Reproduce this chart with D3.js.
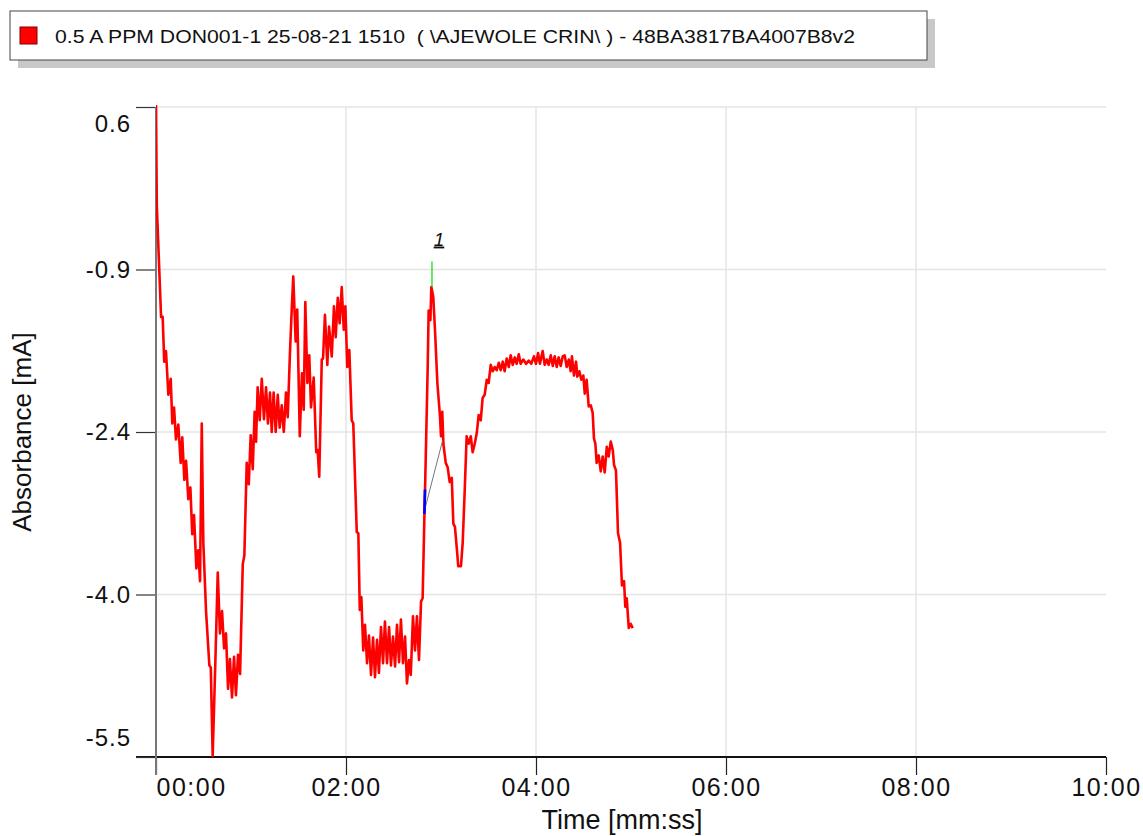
<html>
  <head>
    <script src="https://d3js.org/d3.v7.min.js"></script>
    <style>
      body { margin: 0; background: #fff; }
      text { font-family: "Liberation Sans", Arial, sans-serif; }
    </style>
  </head>

  <body>
    <svg id="vis"></svg>
  </body>

  <script>
    // Legend / axis labels
    var legendLabel = "0.5 A PPM DON001-1 25-08-21 1510  ( \\AJEWOLE CRIN\\ ) - 48BA3817BA4007B8v2"
    var xTitle = "Time [mm:ss]"
    var yTitle = "Absorbance [mA]"

    // Ticks (seconds / mA)
    var xTicks = [0, 120, 240, 360, 480, 600]
    var yTicks = [0.6, -0.925, -2.45, -3.975, -5.5]
    var yTickLabels = ["0.6", "-0.9", "-2.4", "-4.0", "-5.5"]

    // Trace: [time s, absorbance mA]
    var trace = [
      [0, 0.62], [0.5, -0.32], [3.2, -1.37], [4.2, -1.37], [5.2, -1.79], [6.3, -1.69], [7.8, -2.10], [9.3, -1.95],
      [10.3, -2.37], [11.4, -2.22], [12.6, -2.52], [14.1, -2.38], [15.6, -2.74], [16.6, -2.50], [17.9, -2.90],
      [19.0, -2.72], [20.4, -3.08], [21.7, -2.97], [22.9, -3.41], [24.0, -3.23], [25.5, -3.73], [26.7, -3.56],
      [27.8, -3.85], [28.9, -2.37], [29.9, -3.49], [31.6, -4.13], [33.7, -4.64], [34.6, -4.66], [35.8, -5.49],
      [37.5, -4.60], [39.0, -3.77], [40.4, -4.34], [41.7, -4.13], [43.0, -4.48], [44.2, -4.34], [45.5, -4.86],
      [46.7, -4.58], [48.0, -4.94], [49.3, -4.56], [50.5, -4.92], [51.8, -4.54], [53.1, -4.72], [54.8, -3.69],
      [55.8, -3.61], [57.3, -2.74], [58.6, -2.94], [59.8, -2.48], [61.1, -2.80], [62.3, -2.26], [63.2, -2.54],
      [64.2, -2.03], [65.5, -2.34], [66.8, -1.95], [68.2, -2.33], [69.5, -2.03], [70.7, -2.37], [72.0, -2.08],
      [73.1, -2.45], [74.3, -2.08], [75.6, -2.45], [76.9, -2.10], [78.1, -2.41], [79.4, -2.20], [80.7, -2.45],
      [82.1, -2.08], [83.2, -2.31], [84.6, -1.71], [85.7, -1.31], [86.7, -0.99], [88.2, -1.60], [89.2, -1.30],
      [90.8, -2.49], [92.2, -1.90], [93.3, -2.24], [94.3, -1.23], [95.6, -1.99], [96.8, -1.73], [97.9, -2.22],
      [99.6, -1.94], [101.2, -2.64], [102.1, -2.62], [103.1, -2.87], [104.7, -1.77], [105.5, -1.76], [106.7, -1.35],
      [108.2, -1.82], [109.3, -1.46], [111.0, -1.74], [112.4, -1.27], [113.5, -1.56], [114.8, -1.19], [116.0, -1.43],
      [117.3, -1.09], [118.6, -1.49], [119.6, -1.27], [120.8, -1.84], [122.1, -1.68], [123.6, -2.34], [124.6, -2.37],
      [126.8, -3.39], [127.8, -3.40], [128.7, -4.12], [129.7, -4.00], [130.9, -4.50], [132.0, -4.26], [133.3, -4.62],
      [134.5, -4.36], [135.8, -4.73], [137.1, -4.38], [138.3, -4.75], [139.6, -4.40], [140.8, -4.71], [142.1, -4.28],
      [143.4, -4.62], [144.6, -4.23], [145.9, -4.62], [147.2, -4.28], [148.4, -4.64], [149.7, -4.37], [151.0, -4.65],
      [152.2, -4.26], [153.5, -4.61], [154.7, -4.21], [156.0, -4.62], [157.3, -4.37], [158.5, -4.81], [159.8, -4.59],
      [160.9, -4.73], [162.3, -4.18], [163.6, -4.50], [164.8, -4.18], [166.1, -4.59], [167.4, -4.04], [168.4, -4.01],
      [169.5, -3.25], [170.3, -2.74], [171.6, -1.84], [172.2, -1.31], [173.3, -1.40], [173.9, -1.09], [175.1, -1.18],
      [176.2, -1.49], [177.7, -1.99], [179.4, -2.31], [180.0, -2.49], [180.8, -2.26], [181.5, -2.56], [183.0, -2.74],
      [184.2, -2.78], [185.5, -2.92], [186.8, -2.88], [187.8, -3.31], [188.8, -3.34], [190.1, -3.56], [190.9, -3.71],
      [192.6, -3.71], [193.7, -3.49], [195.0, -2.99], [196.2, -2.49], [197.5, -2.56], [198.8, -2.49], [200.0, -2.64],
      [201.3, -2.56], [202.6, -2.46], [203.8, -2.29], [205.1, -2.34], [206.3, -2.13], [207.6, -2.10], [208.9, -1.96],
      [210.1, -1.99], [211.4, -1.82], [212.7, -1.88], [213.9, -1.84], [215.2, -1.87], [216.5, -1.80], [217.7, -1.87],
      [219.0, -1.79], [220.2, -1.88], [221.5, -1.76], [222.8, -1.84], [224.0, -1.73], [225.3, -1.82], [226.6, -1.75],
      [227.8, -1.81], [229.1, -1.72], [230.3, -1.81], [232.0, -1.77], [233.7, -1.81], [235.4, -1.78], [237.0, -1.81],
      [238.7, -1.74], [240.0, -1.81], [241.3, -1.71], [242.5, -1.81], [244.2, -1.69], [245.5, -1.82], [246.8, -1.77],
      [248.0, -1.82], [249.3, -1.73], [250.6, -1.83], [251.8, -1.74], [253.1, -1.84], [254.3, -1.75], [255.6, -1.83],
      [256.9, -1.74], [258.1, -1.73], [259.4, -1.84], [260.7, -1.77], [261.9, -1.88], [262.7, -1.74], [264.0, -1.92],
      [265.3, -1.79], [266.1, -1.93], [267.4, -1.88], [268.6, -1.96], [269.9, -1.92], [270.8, -2.09], [272.0, -1.96],
      [273.3, -2.21], [274.6, -2.20], [275.8, -2.27], [276.6, -2.51], [277.5, -2.56], [278.3, -2.74], [279.6, -2.67],
      [280.9, -2.82], [282.1, -2.68], [283.4, -2.83], [284.7, -2.59], [285.9, -2.68], [287.2, -2.54], [288.5, -2.62],
      [289.3, -2.76], [290.5, -2.81], [291.8, -3.40], [293.1, -3.49], [294.3, -3.89], [295.6, -3.85], [296.4, -4.09],
      [297.3, -4.01], [298.6, -4.29], [299.8, -4.25], [301.1, -4.29]
    ]

    // Peak 1 (name, apex time, marker top, apex value) + its baseline
    var peakNames = ["1"]
    var peakTimes = [174.3]
    var peakMarkTop = [-0.85]
    var peakApex = [-1.09]
    var peakStart = [[169.5, -3.22], [169.9, -2.99]]
    var peakBase = [[169.7, -3.18], [181.0, -2.53]]

    var width = 1143, height = 836
    var svg = d3.select('#vis').attr('width', width).attr('height', height)

    var x = d3.scaleLinear().domain([0, 600]).range([156, 1106])
    var y = d3.scaleLinear().domain([-5.5, 0.6]).range([757, 107])

    function mmss(s) {
      var p = d3.format("02d")
      return p(Math.floor(s / 60)) + ":" + p(s % 60)
    }

    // Legend box with shadow
    var lg = svg.append('g')
    lg.append('rect').attr('x', 18).attr('y', 19).attr('width', 917).attr('height', 49).attr('fill', '#c8c8c8')
    lg.append('rect').attr('x', 10).attr('y', 11).attr('width', 917).attr('height', 49)
      .attr('fill', '#fff').attr('stroke', '#444').attr('stroke-width', 1)
    lg.append('rect').attr('x', 20).attr('y', 27).attr('width', 17).attr('height', 17)
      .attr('fill', '#ff0000').attr('stroke', '#800000').attr('stroke-width', 1)
    lg.append('text').attr('x', 55).attr('y', 43).attr('font-size', 18).attr('fill', '#111')
      .attr('textLength', 800).attr('lengthAdjust', 'spacingAndGlyphs')
      .style('white-space', 'pre').text(legendLabel)

    // Grid
    svg.append('g').selectAll('line').data(yTicks).join('line')
      .attr('x1', 156).attr('x2', 1106).attr('y1', d => y(d)).attr('y2', d => y(d))
      .attr('stroke', '#e4e4e4').attr('stroke-width', 1.5)
    svg.append('g').selectAll('line').data(xTicks.slice(1, -1)).join('line')
      .attr('x1', d => x(d)).attr('x2', d => x(d)).attr('y1', 107).attr('y2', 757)
      .attr('stroke', '#e4e4e4').attr('stroke-width', 1.5)

    // X axis
    var gx = svg.append('g').attr('transform', 'translate(0,757)')
      .call(d3.axisBottom(x).tickValues(xTicks).tickSize(18).tickSizeOuter(0).tickFormat(mmss))
    gx.select('.domain').remove()
    gx.selectAll('.tick line').attr('stroke', '#222').attr('stroke-width', 1.2)
    gx.selectAll('.tick text').attr('font-size', 25).attr('font-family', '"Liberation Sans", Arial, sans-serif')
      .attr('fill', '#111').attr('letter-spacing', 1.5)
      .attr('text-anchor', (d, i) => i === 0 ? 'start' : 'middle')
    svg.append('line').attr('x1', 136).attr('x2', 1106).attr('y1', 757).attr('y2', 757)
      .attr('stroke', '#111').attr('stroke-width', 1.8)

    // Y axis
    var gy = svg.append('g').attr('transform', 'translate(156,0)')
      .call(d3.axisLeft(y).tickValues(yTicks).tickSize(20).tickSizeOuter(0).tickFormat((d, i) => yTickLabels[i]))
    gy.select('.domain').remove()
    gy.selectAll('.tick line').attr('stroke', '#333').attr('stroke-width', 1.2)
    gy.selectAll('.tick text').attr('font-size', 24).attr('font-family', '"Liberation Sans", Arial, sans-serif')
      .attr('fill', '#111').attr('x', -25).attr('letter-spacing', 1)
      .attr('dy', (d, i) => i === 0 ? '1.0em' : (i === yTicks.length - 1 ? '-0.5em' : '0.32em'))
    svg.append('line').attr('x1', 156).attr('x2', 156).attr('y1', 107).attr('y2', 775)
      .attr('stroke', '#777').attr('stroke-width', 2)

    // Titles
    svg.append('text').attr('x', 622).attr('y', 829).attr('text-anchor', 'middle')
      .attr('font-size', 27).attr('fill', '#111').text(xTitle)
    svg.append('text').attr('transform', 'translate(31,432) rotate(-90)').attr('text-anchor', 'middle')
      .attr('font-size', 26).attr('fill', '#111').text(yTitle)

    // Trace
    svg.append('clipPath').attr('id', 'plotclip').append('rect')
      .attr('x', 156).attr('y', 105).attr('width', 950).attr('height', 654)
    var line = d3.line().x(d => x(d[0])).y(d => y(d[1]))
    svg.append('path').datum(trace).attr('clip-path', 'url(#plotclip)')
      .attr('d', line).attr('fill', 'none').attr('stroke', '#ff0000')
      .attr('stroke-width', 2.6).attr('stroke-linejoin', 'round')

    // Peak markup
    svg.append('path').datum(peakBase).attr('d', line).attr('fill', 'none')
      .attr('stroke', '#777').attr('stroke-width', 1)
    svg.append('path').datum(peakStart).attr('d', line).attr('fill', 'none')
      .attr('stroke', '#0000ff').attr('stroke-width', 2.6)
    var pk = svg.append('g').selectAll('g').data(peakNames).join('g')
    pk.append('line').attr('x1', (d, i) => x(peakTimes[i])).attr('x2', (d, i) => x(peakTimes[i]))
      .attr('y1', (d, i) => y(peakMarkTop[i])).attr('y2', (d, i) => y(peakApex[i]))
      .attr('stroke', '#00dd00').attr('stroke-width', 1.2)
    pk.append('text').attr('x', (d, i) => x(peakTimes[i]) + 7).attr('y', (d, i) => y(peakMarkTop[i]) - 16)
      .attr('text-anchor', 'middle').attr('font-size', 19).attr('font-style', 'italic')
      .attr('text-decoration', 'underline').attr('fill', '#111').text(d => d)
  </script>
</html>
